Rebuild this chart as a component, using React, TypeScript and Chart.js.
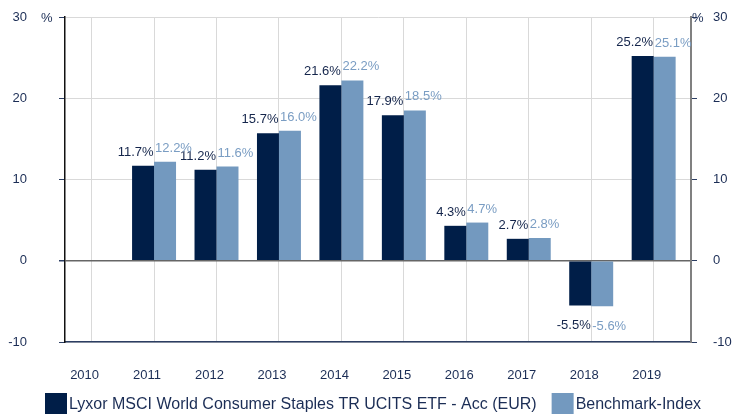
import React, { useEffect, useRef } from "react";
import { Chart, registerables } from "chart.js";

Chart.register(...registerables);

const years = [2010, 2011, 2012, 2013, 2014, 2015, 2016, 2017, 2018, 2019];
const fundValues: (number | null)[] = [null, 11.7, 11.2, 15.7, 21.6, 17.9, 4.3, 2.7, -5.5, 25.2];
const benchValues: (number | null)[] = [null, 12.2, 11.6, 16.0, 22.2, 18.5, 4.7, 2.8, -5.6, 25.1];
const yTickValues = [-10, 0, 10, 20, 30];
const seriesNames = [
  "Lyxor MSCI World Consumer Staples TR UCITS ETF - Acc (EUR)",
  "Benchmark-Index",
];
const barColors = ["#001e48", "#7399bf"];
const labelColors = ["#14254b", "#7a9dc3"];

const FONT = '"Liberation Sans", Arial, Helvetica, sans-serif';
const TEXT = "#1b2d55";

const toPoints = (vals: (number | null)[]) =>
  years
    .map((yr, i) => ({ x: yr, y: vals[i] }))
    .filter((p) => p.y !== null) as { x: number; y: number }[];

const valueLabels = {
  id: "valueLabels",
  afterDatasetsDraw(chart: any) {
    const ctx = chart.ctx;
    ctx.save();
    ctx.font = `13px ${FONT}`;
    ctx.textBaseline = "alphabetic";
    chart.data.datasets.forEach((ds: any, di: number) => {
      const meta = chart.getDatasetMeta(di);
      meta.data.forEach((el: any, i: number) => {
        const v = ds.data[i].y;
        const { x, y, width } = el.getProps(["x", "y", "width"], true);
        const ex = di === 0 ? x + width / 2 - 0.5 : x - width / 2 + 1;
        ctx.textAlign = di === 0 ? "right" : "left";
        ctx.fillStyle = labelColors[di];
        const ty = v >= 0 ? y - 10 : y + 24;
        ctx.fillText(v.toFixed(1) + "%", ex, ty);
      });
    });
    ctx.restore();
  },
};

const extras = {
  id: "extras",
  afterDraw(chart: any) {
    const ctx = chart.ctx;
    const yScale = chart.scales.y;
    const topY = yScale.getPixelForValue(yTickValues[yTickValues.length - 1]);
    ctx.save();
    ctx.fillStyle = TEXT;
    ctx.font = `13px ${FONT}`;
    ctx.textBaseline = "middle";
    ctx.textAlign = "left";
    ctx.fillText("%", 41, topY + 1);
    ctx.fillText("%", chart.chartArea.right + 1, topY + 1);

    // legend
    ctx.font = `16px ${FONT}`;
    let x = 45;
    const boxTop = 393;
    chart.data.datasets.forEach((ds: any, di: number) => {
      ctx.fillStyle = barColors[di];
      ctx.fillRect(x, boxTop, 22, 21);
      ctx.fillStyle = TEXT;
      ctx.textAlign = "left";
      ctx.fillText(ds.label, x + 24, boxTop + 12);
      x += 24 + ctx.measureText(ds.label).width + 15;
    });
    ctx.restore();
  },
};

export default function App() {
  const ref = useRef<HTMLCanvasElement | null>(null);

  useEffect(() => {
    if (!ref.current) return;
    Chart.defaults.font.family = FONT;
    Chart.defaults.color = TEXT;
    const chart = new Chart(ref.current, {
      type: "bar",
      data: {
        datasets: [
          {
            label: seriesNames[0],
            data: toPoints(fundValues),
            backgroundColor: barColors[0],
            borderWidth: 0,
          },
          {
            label: seriesNames[1],
            data: toPoints(benchValues),
            backgroundColor: barColors[1],
            borderWidth: 0,
          },
        ],
      },
      options: {
        animation: false,
        responsive: false,
        maintainAspectRatio: false,
        layout: { padding: { top: 17, left: 0, right: 0, bottom: 0 } },
        datasets: {
          bar: { categoryPercentage: 0.704, barPercentage: 1 },
        } as any,
        plugins: {
          legend: { display: false },
          tooltip: { enabled: false },
        },
        scales: {
          x: {
            type: "linear",
            offset: false,
            min: 2009.574,
            max: 2019.598,
            afterBuildTicks: (scale: any) => {
              scale.ticks = years.map((v) => ({ value: v }));
            },
            afterFit: (scale: any) => {
              scale.height = 72;
              scale.paddingLeft = 0;
              scale.paddingRight = 0;
            },
            grid: {
              offset: false,
              color: "#d9d9d9",
              lineWidth: 1,
              drawTicks: false,
            },
            border: { color: "#2c3e63", width: 1.5 },
            ticks: {
              autoSkip: false,
              maxRotation: 0,
              padding: 26,
              labelOffset: -7,
              font: { size: 13 },
              color: TEXT,
              callback: (v: any) => String(v),
            },
          },
          y: {
            position: "left",
            min: -10,
            max: 30,
            afterBuildTicks: (scale: any) => {
              scale.ticks = yTickValues.map((v) => ({ value: v }));
            },
            afterFit: (scale: any) => {
              scale.width = 65;
              scale.paddingTop = 0;
              scale.paddingBottom = 0;
            },
            grid: {
              color: (c: any) => (c.tick && c.tick.value === 0 ? "#666666" : "#d9d9d9"),
              lineWidth: (c: any) => (c.tick && c.tick.value === 0 ? 1.5 : 1),
              tickColor: "#2c3e63",
              tickLength: 6,
            },
            border: { color: "#111111", width: 1.5 },
            ticks: {
              padding: 32,
              font: { size: 13 },
              color: TEXT,
              callback: (v: any) => String(v),
            },
          },
          y2: {
            position: "right",
            min: -10,
            max: 30,
            afterBuildTicks: (scale: any) => {
              scale.ticks = yTickValues.map((v) => ({ value: v }));
            },
            afterFit: (scale: any) => {
              scale.width = 41;
              scale.paddingTop = 0;
              scale.paddingBottom = 0;
            },
            grid: {
              drawOnChartArea: false,
              tickColor: "#2c3e63",
              tickLength: 6,
            },
            border: { color: "#808080", width: 2 },
            ticks: {
              padding: 16,
              font: { size: 13 },
              color: TEXT,
              callback: (v: any) => String(v),
            },
          },
        },
      },
      plugins: [valueLabels, extras],
    });
    return () => chart.destroy();
  }, []);

  return (
    <div style={{ position: "fixed", left: 0, top: 0, width: 732, height: 414, background: "#fff" }}>
      <canvas ref={ref} width={732} height={414} style={{ width: 732, height: 414, display: "block" }} />
    </div>
  );
}
